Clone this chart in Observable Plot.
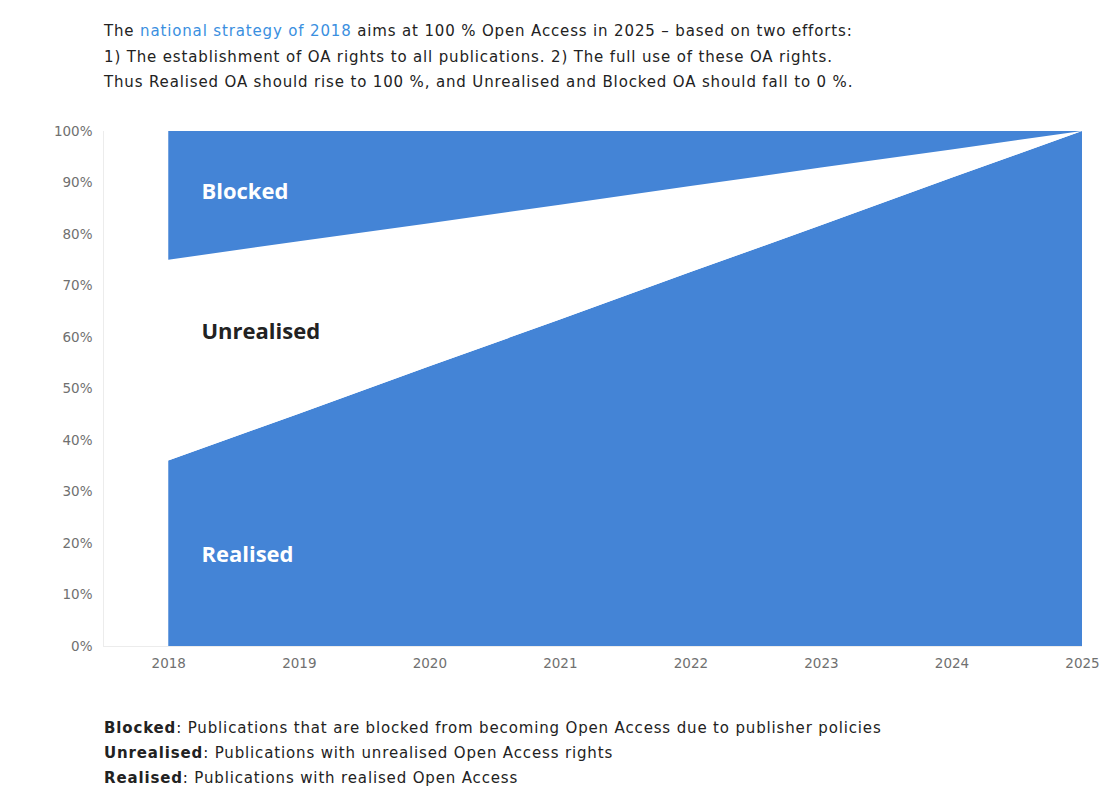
<!DOCTYPE html>
<html>
<head>
<meta charset="utf-8">
<script src="https://cdn.jsdelivr.net/npm/d3@7"></script>
<script src="https://cdn.jsdelivr.net/npm/@observablehq/plot@0.6"></script>
<style>
  html, body { margin: 0; padding: 0; background: #fff; }
  body { width: 1107px; height: 796px; position: relative; overflow: hidden; font-family: "DejaVu Sans", sans-serif; color: #222; }
  #title { position: absolute; left: 104px; top: 19px; font-size: 15px; line-height: 25.5px; letter-spacing: 0.85px; white-space: nowrap; }
  #title .hl { color: #3a8fe0; }
  #chart { position: absolute; left: 0; top: 110px; }
  #caption { position: absolute; left: 104px; top: 716px; font-size: 15px; line-height: 25px; letter-spacing: 0.85px; white-space: nowrap; }
  #caption b { font-weight: 700; }
</style>
</head>
<body>
<div id="title">The <span class="hl">national strategy of 2018</span> aims at 100 % Open Access in 2025 – based on two efforts:<br>1) The establishment of OA rights to all publications. 2) The full use of these OA rights.<br>Thus Realised OA should rise to 100 %, and Unrealised and Blocked OA should fall to 0 %.</div>
<div id="chart"></div>
<div id="caption"><b>Blocked</b>: Publications that are blocked from becoming Open Access due to publisher policies<br><b>Unrealised</b>: Publications with unrealised Open Access rights<br><b>Realised</b>: Publications with realised Open Access</div>
<script>
const years = [2018, 2019, 2020, 2021, 2022, 2023, 2024, 2025];
const realised   = [36, 45.1, 54.3, 63.4, 72.6, 81.7, 90.9, 100];
const unrealised = [39, 33.5, 27.8, 22.3, 16.7, 11.2, 5.5, 0];
const blocked    = [25, 21.4, 17.9, 14.3, 10.7, 7.1, 3.6, 0];
const seriesNames = ["Realised", "Unrealised", "Blocked"];
const seriesFill = {Realised: "#4484d6", Unrealised: "#ffffff", Blocked: "#4484d6"};
const yTicks = [0, 10, 20, 30, 40, 50, 60, 70, 80, 90, 100];

const rows = [];
years.forEach((yr, i) => {
  rows.push({year: yr, series: "Realised", value: realised[i]});
  rows.push({year: yr, series: "Unrealised", value: unrealised[i]});
  rows.push({year: yr, series: "Blocked", value: blocked[i]});
});

const labels = [
  {name: seriesNames[2], x: 2018.25, y: 88.2, fill: "#ffffff"},
  {name: seriesNames[1], x: 2018.25, y: 61, fill: "#222222"},
  {name: seriesNames[0], x: 2018.25, y: 17.7, fill: "#ffffff"}
];

const chart = Plot.plot({
  width: 1107,
  height: 570,
  marginLeft: 103,
  marginRight: 25,
  marginTop: 21,
  marginBottom: 34,
  style: {fontFamily: "DejaVu Sans, sans-serif", background: "transparent"},
  x: {domain: [2017.5, 2025], ticks: years, tickFormat: d => String(d), tickSize: 0, tickPadding: 12, label: null},
  y: {domain: [0, 100], ticks: yTicks, tickFormat: d => d + "%", tickSize: 0, tickPadding: 11, label: null},
  marks: [
    Plot.ruleX([2017.5], {stroke: "#ececec", strokeWidth: 1}),
    Plot.ruleY([0], {stroke: "#ececec", strokeWidth: 1}),
    Plot.areaY(rows, {
      x: "year", y: "value", z: "series",
      fill: d => seriesFill[d.series],
      order: seriesNames,
      curve: "linear"
    }),
    Plot.text(labels, {x: "x", y: "y", text: "name", fill: "fill", textAnchor: "start", fontSize: 22, fontWeight: 700, fontFamily: "Open Sans, sans-serif"})
  ]
});
chart.querySelectorAll("[aria-label='y-axis tick label'], [aria-label='x-axis tick label']").forEach(g => {
  g.setAttribute("font-size", "13.5");
  g.setAttribute("fill", "#707070");
});
document.getElementById("chart").appendChild(chart);
</script>
</body>
</html>
